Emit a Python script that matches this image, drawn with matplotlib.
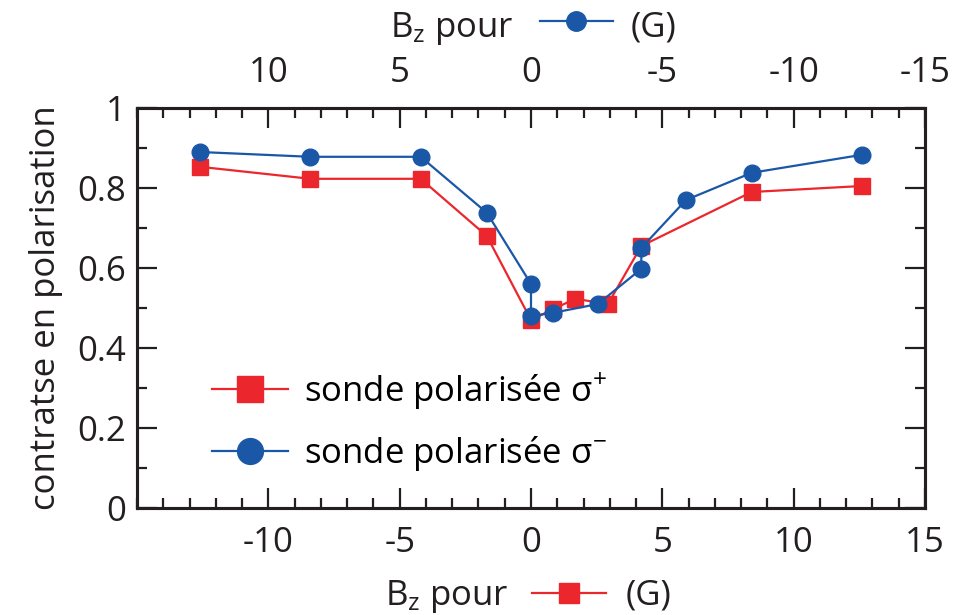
import matplotlib
matplotlib.use("Agg")
import matplotlib.pyplot as plt
from matplotlib.lines import Line2D
from matplotlib.ticker import MultipleLocator, FixedLocator, FuncFormatter

plt.rcParams['font.family'] = ['Open Sans', 'DejaVu Sans']
plt.rcParams['mathtext.default'] = 'regular'
plt.rcParams['axes.unicode_minus'] = False

# sigma+ probe, field on bottom axis (G)
bz_plus = [-12.6, -8.4, -4.2, -1.68, 0.0, 0.84, 1.68, 2.93, 4.2, 8.4, 12.6]
contrast_plus = [0.853, 0.823, 0.823, 0.68, 0.47, 0.497, 0.523, 0.51, 0.655, 0.79, 0.805]

# sigma- probe, field on top axis (G)
bz_minus = [12.6, 8.4, 4.2, 1.68, 0.0, 0.0, -0.84, -2.55, -4.2, -4.2, -5.9, -8.4, -12.6]
contrast_minus = [0.89, 0.878, 0.878, 0.738, 0.56, 0.48, 0.488, 0.51, 0.598, 0.65, 0.77, 0.838, 0.883]

bottom_ticks = [-10, -5, 0, 5, 10, 15]
top_ticks = [10, 5, 0, -5, -10, -15]
y_ticks = [0, 0.2, 0.4, 0.6, 0.8, 1.0]

red = '#ec262d'
blue = '#1b57a7'
dark = '#231f20'
fs = 25

fig = plt.figure(figsize=(9.54, 6.15), dpi=100)
ax = fig.add_axes([137 / 954, 107 / 615, 788 / 954, 400 / 615])
ax2 = ax.twiny()

l_plus, = ax.plot(bz_plus, contrast_plus, color=red, lw=1.6, marker='s', ms=12,
                  mec=red, mfc=red)
l_minus, = ax2.plot(bz_minus, contrast_minus, color=blue, lw=1.6, marker='o', ms=12,
                    mec=blue, mfc=blue)

ax.set_xlim(-15, 15)
ax2.set_xlim(15, -15)
ax.set_ylim(0, 1)

ax.xaxis.set_major_locator(FixedLocator(bottom_ticks))
ax.xaxis.set_minor_locator(MultipleLocator(1))
ax2.xaxis.set_major_locator(FixedLocator(top_ticks))
ax2.xaxis.set_minor_locator(MultipleLocator(1))
ax.yaxis.set_major_locator(FixedLocator(y_ticks))
ax.yaxis.set_minor_locator(MultipleLocator(0.1))
ax.yaxis.set_major_formatter(FuncFormatter(lambda v, p: f"{v:g}"))

for a in (ax, ax2):
    for s in a.spines.values():
        s.set_linewidth(2.2)
        s.set_color(dark)

ax.tick_params(axis='both', which='both', direction='in', color=dark, labelcolor=dark,
               labelsize=fs, width=1.6)
ax.tick_params(axis='both', which='major', length=14.5)
ax.tick_params(axis='both', which='minor', length=7.5)
ax.tick_params(axis='x', which='both', top=False, bottom=True, pad=13)
ax.tick_params(axis='y', which='both', left=True, right=True, labelright=False, pad=8)
ax2.tick_params(axis='x', which='both', direction='in', color=dark, labelcolor=dark,
                labelsize=fs, width=1.6, top=True, bottom=False, pad=13)
ax2.tick_params(axis='x', which='major', length=14.5)
ax2.tick_params(axis='x', which='minor', length=7.5)

ax.set_ylabel('contratse en polarisation', fontsize=fs, color=dark, labelpad=10)

ax.legend([l_plus, l_minus],
          ['sonde polarisée σ$^{+}$', 'sonde polarisée σ$^{-}$'],
          loc='center left', bbox_to_anchor=(0.095, 0.215), frameon=False,
          fontsize=fs, markerscale=1.55, handlelength=2.2, handletextpad=0.45,
          labelspacing=0.65, borderpad=0, borderaxespad=0)

# axis titles with an inline line+marker symbol
W, H = 954, 615


def axis_title(x_text, x_l0, x_l1, x_g, y_mid, y_base, color, marker):
    fig.text(x_text / W, 1 - y_base / H, 'B$_z$ pour', fontsize=fs, color=dark,
             ha='left', va='baseline')
    fig.text(x_g / W, 1 - y_base / H, '(G)', fontsize=fs, color=dark,
             ha='left', va='baseline')
    xm = (x_l0 + x_l1) / 2
    fig.add_artist(Line2D([x_l0 / W, xm / W, x_l1 / W], [1 - y_mid / H] * 3,
                          transform=fig.transFigure, color=color, lw=1.6,
                          marker=marker, markevery=[1], ms=14, mfc=color, mec=color))


axis_title(385, 532, 606, 626, 593, 605, red, 's')
axis_title(390, 540, 613, 631, 21, 37, blue, 'o')

fig.savefig('out.png', dpi=100)
